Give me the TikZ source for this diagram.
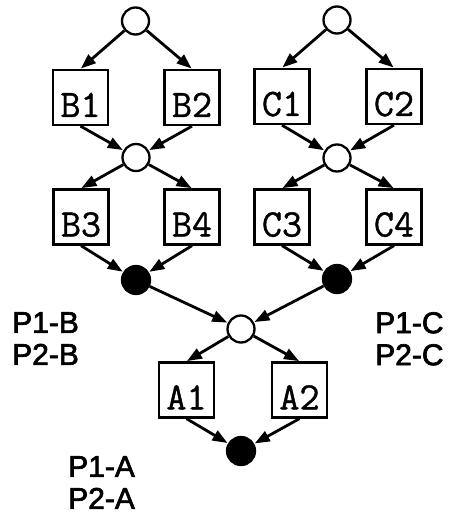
\documentclass[tikz,border=0pt]{standalone}
\usepackage{fontspec}
\setmainfont{Liberation Sans}
\newfontfamily\labfont[FakeBold=2.2]{Liberation Sans}
\newfontfamily\boxfont[FakeBold=1]{Latin Modern Mono}
\usetikzlibrary{arrows.meta}

\tikzset{
  open/.style={circle, draw, line width=2.3pt, fill=white, minimum size=27pt, inner sep=0pt},
  full/.style={circle, draw, line width=2.3pt, fill=black, minimum size=28pt, inner sep=0pt},
  task/.style={rectangle, draw, line width=2.3pt, fill=white, inner sep=0pt,
    minimum width=55pt, text height=47pt, text depth=8pt,
    font=\boxfont\fontsize{39}{39}\selectfont},
  flow/.style={line width=2.8pt, -{Triangle[length=15pt,width=11pt]}, shorten >=0.5pt},
  plabel/.style={inner sep=0pt, align=left, anchor=north west,
    font=\labfont\fontsize{30}{32}\selectfont}
}

\begin{document}
\begin{tikzpicture}[x=1pt, y=-1pt]
\useasboundingbox (0,0) rectangle (450,513);

% left branch
\node[open] (bt) at (135.5,21) {};
\node[task] (b1) at (80.5,97.5) {B1};
\node[task] (b2) at (192,97.5) {B2};
\node[open] (bm) at (136,157.5) {};
\node[task] (b3) at (81,217) {B3};
\node[task] (b4) at (192,217) {B4};
\node[full] (bf) at (136,280) {};

% right branch
\node[open] (ct) at (337,20) {};
\node[task] (c1) at (282,96.5) {C1};
\node[task] (c2) at (394,96.5) {C2};
\node[open] (cm) at (337,158) {};
\node[task] (c3) at (282,217) {C3};
\node[task] (c4) at (394,217) {C4};
\node[full] (cf) at (337,279) {};

% joining branch
\node[open] (am) at (241,329) {};
\node[task] (a1) at (186.5,390) {A1};
\node[task] (a2) at (299.5,390) {A2};
\node[full] (af) at (241,451) {};

% connectors
\draw[flow] (bt) -- (b1.north);
\draw[flow] (bt) -- (b2.north);
\draw[flow] (b1.south) -- (bm);
\draw[flow] (b2.south) -- (bm);
\draw[flow] (bm) -- (b3.north);
\draw[flow] (bm) -- (b4.north);
\draw[flow] (b3.south) -- (bf);
\draw[flow] (b4.south) -- (bf);

\draw[flow] (ct) -- (c1.north);
\draw[flow] (ct) -- (c2.north);
\draw[flow] (c1.south) -- (cm);
\draw[flow] (c2.south) -- (cm);
\draw[flow] (cm) -- (c3.north);
\draw[flow] (cm) -- (c4.north);
\draw[flow] (c3.south) -- (cf);
\draw[flow] (c4.south) -- (cf);

\draw[flow] (bf) -- (am);
\draw[flow] (cf) -- (am);
\draw[flow] (am) -- (a1.north);
\draw[flow] (am) -- (a2.north);
\draw[flow] (a1.south) -- (af);
\draw[flow] (a2.south) -- (af);

% processor labels
\node[plabel] (lb) at (12,312) {P1-B\\P2-B};
\node[plabel] (lc) at (375,312) {P1-C\\P2-C};
\node[plabel] (la) at (68,456) {P1-A\\P2-A};
\end{tikzpicture}
\end{document}
